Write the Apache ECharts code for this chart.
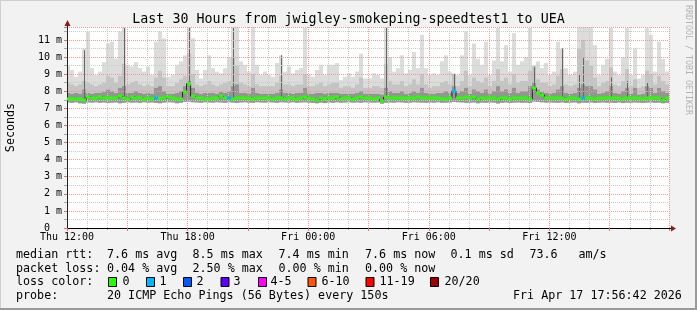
<!DOCTYPE html>
<html><head><meta charset="utf-8">
<script src="https://cdn.jsdelivr.net/npm/echarts@6/dist/echarts.min.js"></script>
<style>html,body{margin:0;padding:0;background:#f2f2f2}#c{width:697px;height:310px}</style>
</head><body><div id="c"></div>
<script>
const titleText = 'Last 30 Hours from jwigley-smokeping-speedtest1 to UEA';
const startHour = 11.95;   // Thu 11:57
const stepHours = 0.2;     // 12 min per column
const xMin = 12, xMax = 41.95;
const xTickHours = [12, 18, 24, 30, 36];
const xTickLabels = ['Thu 12:00', 'Thu 18:00', 'Fri 00:00', 'Fri 06:00', 'Fri 12:00'];
const yMax = 11.76;
const yTickValues = [0,1,2,3,4,5,6,7,8,9,10,11];
const yTickLabels = ['0  ','1 m','2 m','3 m','4 m','5 m','6 m','7 m','8 m','9 m','10 m','11 m'];

const median = [
7.55,7.55,7.57,7.52,7.47,7.68,7.62,7.6,7.68,7.6, 7.58,7.6,7.62,7.7,7.62,7.55,7.68,7.62,7.6,7.57, 7.6,7.55,7.62,7.6,7.58,7.66,7.58,7.52,7.56,7.95,
8.45,7.72,7.62,7.58,7.55,7.57,7.6,7.58,7.72,7.62, 7.6,7.56,7.62,7.6,7.58,7.62,7.55,7.6,7.63,7.58, 7.6,7.57,7.6,7.62,7.56,7.6,7.62,7.56,7.6,7.68,
7.6,7.55,7.5,7.58,7.52,7.62,7.58,7.65,7.56,7.6, 7.62,7.57,7.6,7.66,7.58,7.6,7.57,7.6,7.45,7.65, 7.6,7.58,7.6,7.62,7.6,7.58,7.62,7.65,7.6,7.58,
7.6,7.62,7.58,7.56,7.55,7.6,8.02,7.63,7.62,7.64, 7.6,7.65,7.52,7.6,7.58,7.62,7.6,7.52,7.58,7.6, 7.55,7.6,7.62,7.58,7.6,7.56,8.2,7.88,7.78,7.6,
7.62,7.6,7.58,7.62,7.56,7.6,7.62,7.56,7.6,7.58, 7.62,7.55,7.6,7.58,7.62,7.6,7.58,7.62,7.55,7.6, 7.58,7.62,7.6,7.56,7.6,7.62,7.58,7.6,7.5,7.6
];
const loss = [
0,0,0,0,0,0,0,0,0,0, 0,0,0,0,0,0,0,0,0,0, 0,0,1,0,0,0,0,0,0,0,
0,0,0,0,0,0,0,0,0,0, 1,0,0,0,0,0,0,0,0,0, 0,0,0,0,0,0,0,0,0,0,
0,0,0,0,0,0,0,0,0,0, 0,0,0,0,0,0,0,0,0,0, 0,0,0,0,0,0,0,0,0,0,
0,0,0,0,0,0,1,0,0,0, 0,0,0,0,0,0,0,0,0,0, 0,0,0,0,0,0,0,0,0,0,
0,0,0,0,0,0,0,0,1,0, 0,0,0,0,0,0,0,0,0,0, 0,0,0,0,0,0,0,0,0,0
];
const smokeLow = [
7.35,7.33,7.36,7.3,7.28,7.35,7.34,7.36,7.33,7.35, 7.32,7.34,7.35,7.3,7.33,7.36,7.34,7.35,7.33,7.36, 7.34,7.35,7.32,7.3,7.34,7.36,7.35,7.3,7.33,7.38,
7.4,7.36,7.35,7.33,7.36,7.35,7.34,7.36,7.35,7.33, 7.36,7.34,7.32,7.35,7.36,7.34,7.33,7.36,7.35,7.34, 7.36,7.35,7.33,7.36,7.35,7.34,7.36,7.33,7.35,7.36,
7.34,7.32,7.3,7.34,7.31,7.35,7.33,7.36,7.34,7.35, 7.36,7.34,7.35,7.33,7.36,7.35,7.34,7.35,7.28,7.33, 7.35,7.34,7.36,7.35,7.33,7.34,7.36,7.35,7.34,7.33,
7.35,7.34,7.36,7.33,7.34,7.35,7.38,7.36,7.35,7.33, 7.34,7.35,7.3,7.34,7.33,7.35,7.34,7.29,7.33,7.35, 7.32,7.34,7.35,7.33,7.34,7.32,7.4,7.38,7.36,7.34,
7.35,7.34,7.33,7.35,7.32,7.34,7.35,7.3,7.34,7.33, 7.35,7.32,7.34,7.35,7.33,7.34,7.32,7.35,7.31,7.34, 7.33,7.35,7.34,7.32,7.34,7.35,7.33,7.34,7.3,7.33
];
const smokeDark = [
7.9,7.85,7.9,7.85,8.1,7.9,7.85,7.9,7.9,7.95, 8.1,8.0,7.9,8.2,8.3,7.9,7.9,8.0,7.9,7.85, 7.9,7.85,8.2,8.3,8.0,7.85,7.85,7.9,8.0,8.3,
8.6,8.2,7.9,7.85,7.9,7.9,7.9,7.85,7.95,7.9, 8.0,8.3,8.4,7.9,7.9,7.85,8.2,7.9,7.85,7.85, 7.85,7.85,7.9,8.1,7.9,7.9,7.85,7.9,7.9,8.2,
7.85,7.85,7.9,7.9,7.85,7.9,7.9,7.9,7.85,7.85, 7.85,7.85,7.9,8.0,7.85,7.85,7.85,7.85,7.8,8.2, 8.0,7.9,7.9,8.0,7.85,7.9,8.0,7.9,8.2,7.9,
7.85,7.85,7.9,7.9,8.0,7.9,8.3,7.9,8.0,8.2, 7.85,8.1,8.0,7.9,8.1,7.85,8.0,8.3,8.0,8.1, 7.9,8.2,7.9,8.0,8.0,8.3,8.5,8.1,7.95,7.9,
7.85,7.9,8.1,8.3,7.9,7.85,7.9,8.2,8.4,8.3, 8.3,8.1,7.85,7.9,8.0,8.3,7.9,7.85,8.0,8.2, 7.85,8.2,7.8,7.85,8.3,8.2,7.9,8.2,8.0,7.9
];
const smokeMid = [
8.5,8.4,8.3,8.4,8.6,8.5,8.4,8.3,8.4,8.5, 8.9,8.8,8.5,8.9,9.6,8.4,8.5,8.6,8.4,8.3, 8.4,8.3,8.8,9.2,8.8,8.3,8.3,8.5,8.7,8.9,
10.2,9.0,8.4,8.3,8.4,8.6,8.4,8.3,8.4,8.5, 8.6,10.0,9.5,8.5,8.4,8.3,9.0,8.4,8.3,8.3, 8.3,8.3,8.5,8.9,8.4,8.4,8.3,8.4,8.4,9.0,
8.3,8.3,8.4,8.5,8.3,8.4,8.5,8.5,8.2,8.3, 8.3,8.2,8.4,8.8,8.2,8.2,8.3,8.3,8.2,9.6, 8.6,8.4,8.4,8.6,8.3,8.4,8.7,8.4,9.0,8.4,
8.2,8.3,8.3,8.5,8.6,8.4,9.0,8.3,8.6,9.2, 8.3,8.8,8.6,8.5,8.8,8.3,8.6,9.3,8.6,8.8, 8.4,9.0,8.5,8.6,8.6,9.2,9.5,8.7,8.5,8.5,
8.3,8.4,8.9,9.3,8.4,8.3,8.4,10.5,11.0,9.8, 9.5,8.8,8.3,8.5,8.6,9.4,8.4,8.3,8.6,9.3, 8.3,8.7,8.2,8.3,9.2,9.0,8.4,8.9,8.6,8.4
];
const smokeMax = [
9.5,9.25,8.85,9.15,10.5,11.5,9.35,8.95,9.15,9.7, 10.8,10.9,9.9,11.5,11.76,9.55,9.45,9.7,9.35,9.15, 9.45,8.95,10.9,11.5,11.1,8.85,8.95,9.55,9.75,10.1,
11.76,11.1,9.25,8.75,9.25,10.1,9.35,9.15,9.05,9.35, 10.0,11.76,11.76,9.75,9.55,9.15,11.76,9.55,8.95,9.15, 8.95,8.85,9.65,10.1,9.15,9.45,9.05,9.25,9.35,11.7,
8.95,8.85,9.25,9.55,8.95,9.55,9.55,9.65,8.65,8.85, 9.05,8.85,9.15,10.2,8.75,8.75,9.05,8.95,8.75,11.76, 10.0,9.15,9.35,10.1,9.05,9.25,10.3,9.35,11.3,9.35,
8.95,9.05,8.95,9.75,10.1,9.15,9.05,8.95,10.1,11.5, 8.95,10.8,9.9,9.55,10.9,8.95,9.8,11.7,9.75,10.7, 9.15,11.4,9.55,9.75,10.0,11.7,9.35,9.75,9.35,9.65,
8.95,9.15,10.9,10.5,9.35,8.95,9.15,11.76,11.76,11.76, 11.76,10.7,8.95,9.55,9.9,11.7,9.15,8.95,10.0,11.7, 8.95,10.5,8.75,8.95,11.7,11.3,9.15,10.9,9.9,9.15
];
// thin dark spike lines (0 = none)
const smokeSpike = [
0,0,0,0,10.4,0,0,0,0,0, 0,0,0,0,11.7,0,0,0,0,0, 0,0,0,0,0,0,0,0,0,0,
11.7,0,0,0,0,0,0,0,0,0, 0,11.7,0,0,0,0,0,0,0,0, 0,0,0,10.1,0,0,0,0,0,0,
0,0,0,0,0,0,0,0,0,0, 0,0,0,0,0,0,0,0,0,11.7, 0,0,0,0,0,0,0,0,0,0,
0,0,0,0,0,0,9.0,0,0,0, 0,0,0,0,0,0,0,0,0,0, 0,0,0,0,0,0,9.4,0,0,0,
0,0,0,10.5,0,0,0,9.0,10.0,0, 0,0,0,0,0,8.8,0,0,0,8.6, 0,0,0,0,8.5,0,0,0,0,0
];

const lossLabels = ['0','1','2','3','4-5','6-10','11-19','20/20'];
const lossColors = ['#26ff00','#00b8ff','#0059ff','#5e00ff','#ff00ff','#ff5500','#ff0000','#a10000'];
const rttLabel = 'median rtt:';
const rttStats = ['7.6 ms avg','8.5 ms max','7.4 ms min','7.6 ms now','0.1 ms sd','73.6','am/s'];
const lossLabel = 'packet loss:';
const lossStats = ['0.04 % avg','2.50 % max','0.00 % min','0.00 % now'];
const colorLabel = 'loss color:';
const probeLabel = 'probe:';
const probeText = '20 ICMP Echo Pings (56 Bytes) every 150s';
const stampText = 'Fri Apr 17 17:56:42 2026';
const yName = 'Seconds';
const watermark = 'RRDTOOL / TOBI OETIKER';

const FONT = '"DejaVu Sans Mono", monospace';
const chart = echarts.init(document.getElementById('c'), null, {renderer:'canvas'});

function bandData(hiArr){
  return median.map((m, i) => [startHour + stepHours*i, startHour + stepHours*(i+1), smokeLow[i], hiArr[i]]);
}
function bandRender(color){
  return function(params, api){
    const p0 = api.coord([api.value(0), api.value(3)]);
    const p1 = api.coord([api.value(1), api.value(2)]);
    const x0 = Math.round(p0[0]), x1 = Math.round(p1[0]);
    return {type:'rect', shape:{x:x0, y:p0[1], width:x1-x0, height:p1[1]-p0[1]}, style:{fill:color}};
  };
}
function bandSeries(hiArr, color, z){
  return {type:'custom', clip:true, z:z, silent:true, renderItem:bandRender(color),
    encode:{x:[0,1], y:[2,3]}, data:bandData(hiArr)};
}
const spikeData = median.map((m, i) => [startHour + stepHours*(i+0.5), m, smokeSpike[i]]).filter(d => d[2] > 0);
const medSeg = median.map((m, i) => [startHour + stepHours*i, startHour + stepHours*(i+1), m, loss[i]]);
const medLine = median.map((m, i) => [startHour + stepHours*(i+0.5), m]);

const gridOpt = {left:67, top:27, width:602, height:201, show:true, backgroundColor:'#ffffff', borderWidth:0};
const majorCol = '#ec9a9a', minorCol = '#c9c9c9';

chart.setOption({
  animation:false,
  backgroundColor:'#f2f2f2',
  grid:gridOpt,
  xAxis:[
    {type:'value', min:xMin, max:xMax, interval:3, z:4, position:'bottom',
     axisLine:{show:true, onZero:false, lineStyle:{color:'#000', width:1}},
     axisTick:{show:true, length:3, lineStyle:{color:'#e07070'}},
     axisLabel:{margin:4, fontFamily:FONT, fontSize:10, color:'#000',
       formatter:function(v){const k = xTickHours.indexOf(Math.round(v*1000)/1000); return k>=0 ? xTickLabels[k] : '';}},
     splitLine:{show:true, lineStyle:{color:majorCol, type:[1,1]}}},
    {type:'value', min:xMin, max:xMax, interval:1, z:3, position:'bottom',
     axisLine:{show:false}, axisTick:{show:true, length:2, lineStyle:{color:'#aaa'}}, axisLabel:{show:false},
     splitLine:{show:true, lineStyle:{color:minorCol, type:[1,1]}}}
  ],
  yAxis:[
    {type:'value', min:0, max:yMax, interval:1, z:4, position:'left', offset:0,
     axisLine:{show:true, onZero:false, lineStyle:{color:'#222', width:1}},
     axisTick:{show:true, length:3, lineStyle:{color:'#e07070'}},
     axisLabel:{margin:5, fontFamily:FONT, fontSize:10, color:'#000',
       formatter:function(v){const k = yTickValues.indexOf(Math.round(v*1000)/1000); return k>=0 ? yTickLabels[k] : '';}},
     splitLine:{show:true, lineStyle:{color:majorCol, type:[1,1]}}},
    {type:'value', min:0, max:yMax, interval:0.5, z:3, position:'left', offset:0,
     axisLine:{show:false}, axisTick:{show:true, length:3, lineStyle:{color:'#aaa'}}, axisLabel:{show:false},
     splitLine:{show:true, lineStyle:{color:minorCol, type:[1,1]}}}
  ],
  series:[
    bandSeries(smokeMax, '#dcdcdc', 1),
    bandSeries(smokeMid, '#c4c4c4', 1),
    bandSeries(smokeDark, '#959595', 1),
    {type:'custom', clip:true, z:1, silent:true, encode:{x:0, y:[1,2]}, data:spikeData,
     renderItem:function(params, api){
       const p0 = api.coord([api.value(0), api.value(2)]);
       const p1 = api.coord([api.value(0), api.value(1)]);
       const x = Math.round(p0[0]);
       return {type:'rect', shape:{x:x, y:p0[1], width:1, height:p1[1]-p0[1]}, style:{fill:'#666'}};
     }},
    {type:'line', step:'middle', data:medLine, symbol:'none', z:5, silent:true,
     lineStyle:{color:'#222', width:1}},
    {type:'custom', clip:true, z:6, silent:true, encode:{x:[0,1], y:2}, data:medSeg,
     renderItem:function(params, api){
       const p0 = api.coord([api.value(0), api.value(2)]);
       const p1 = api.coord([api.value(1), api.value(2)]);
       const x0 = Math.round(p0[0]), x1 = Math.round(p1[0]);
       return {type:'rect', shape:{x:x0, y:Math.round(p0[1])-1.5, width:x1-x0, height:3},
               style:{fill:lossColors[api.value(3)]}};
     }}
  ]
});

// decorations
const g = [];
function txt(x, y, text, opts){
  opts = opts || {};
  return Object.assign({type:'text', x:x, y:y, silent:true, z:10,
    style:{text:text, font:(opts.size||11.7)+'px '+FONT, fill:opts.fill||'#000',
      textAlign:opts.align||'left', align:opts.align||'left',
      textVerticalAlign:'middle', verticalAlign:'middle'}}, opts.extra||{});
}
g.push({type:'rect', shape:{x:0, y:0, width:697, height:310}, style:{fill:'none', stroke:'#cfcfcf', lineWidth:2}, silent:true, z:0});
g.push({type:'line', shape:{x1:0, y1:309, x2:697, y2:309}, style:{stroke:'#9a9a9a', lineWidth:2}, silent:true, z:1});
g.push({type:'line', shape:{x1:696, y1:0, x2:696, y2:310}, style:{stroke:'#9a9a9a', lineWidth:2}, silent:true, z:1});
g.push(txt(348.5, 19.5, titleText, {size:13.3, align:'center'}));
g.push(txt(10.5, 127.5, yName, {align:'center', extra:{rotation:Math.PI/2}}));
g.push(txt(688, 60, watermark, {size:8.3, align:'center', fill:'#b4b4b4', extra:{rotation:-Math.PI/2}}));
const rttX = [107, 192.5, 278.5, 365, 450.5, 529.5, 578.5];
g.push(txt(16, 255, rttLabel));
rttStats.forEach((s, i) => g.push(txt(rttX[i], 255, s)));
g.push(txt(16, 268.5, lossLabel));
lossStats.forEach((s, i) => g.push(txt(rttX[i], 268.5, s)));
g.push(txt(16, 282, colorLabel));
const boxX = [108, 146, 183, 220.5, 258, 307.5, 365.5, 430];
const boxLabelX = [122.5, 159.5, 196.5, 233.5, 270.5, 321.5, 379.5, 444.5];
lossLabels.forEach((s, i) => {
  g.push({type:'rect', shape:{x:boxX[i]+0.5, y:277.5, width:8, height:9}, style:{fill:lossColors[i], stroke:'#000', lineWidth:1}, silent:true, z:10});
  g.push(txt(boxLabelX[i], 282, s));
});
g.push(txt(16, 296, probeLabel));
g.push(txt(107, 296, probeText));
g.push(txt(513, 296, stampText));
const pTop = chart.convertToPixel({gridIndex:0}, [xMin, yMax]);
const pRight = chart.convertToPixel({gridIndex:0}, [xMax, 0]);
const ax = Math.round(pTop[0]) + 0.5;
g.push({type:'line', shape:{x1:ax, y1:pTop[1], x2:ax, y2:pTop[1]-3}, style:{stroke:'#222', lineWidth:1}, silent:true, z:10});
g.push({type:'polygon', shape:{points:[[ax-3, pTop[1]-1], [ax+3, pTop[1]-1], [ax, pTop[1]-7]]}, style:{fill:'#8b1a1a'}, silent:true, z:10});
const ay = Math.round(pRight[1]) + 0.5;
g.push({type:'line', shape:{x1:pRight[0], y1:ay, x2:pRight[0]+2, y2:ay}, style:{stroke:'#000', lineWidth:1}, silent:true, z:10});
g.push({type:'polygon', shape:{points:[[pRight[0]+2, ay-3], [pRight[0]+2, ay+3], [pRight[0]+7, ay]]}, style:{fill:'#8b1a1a'}, silent:true, z:10});
chart.setOption({graphic:{elements:g}});
</script>
</body></html>
